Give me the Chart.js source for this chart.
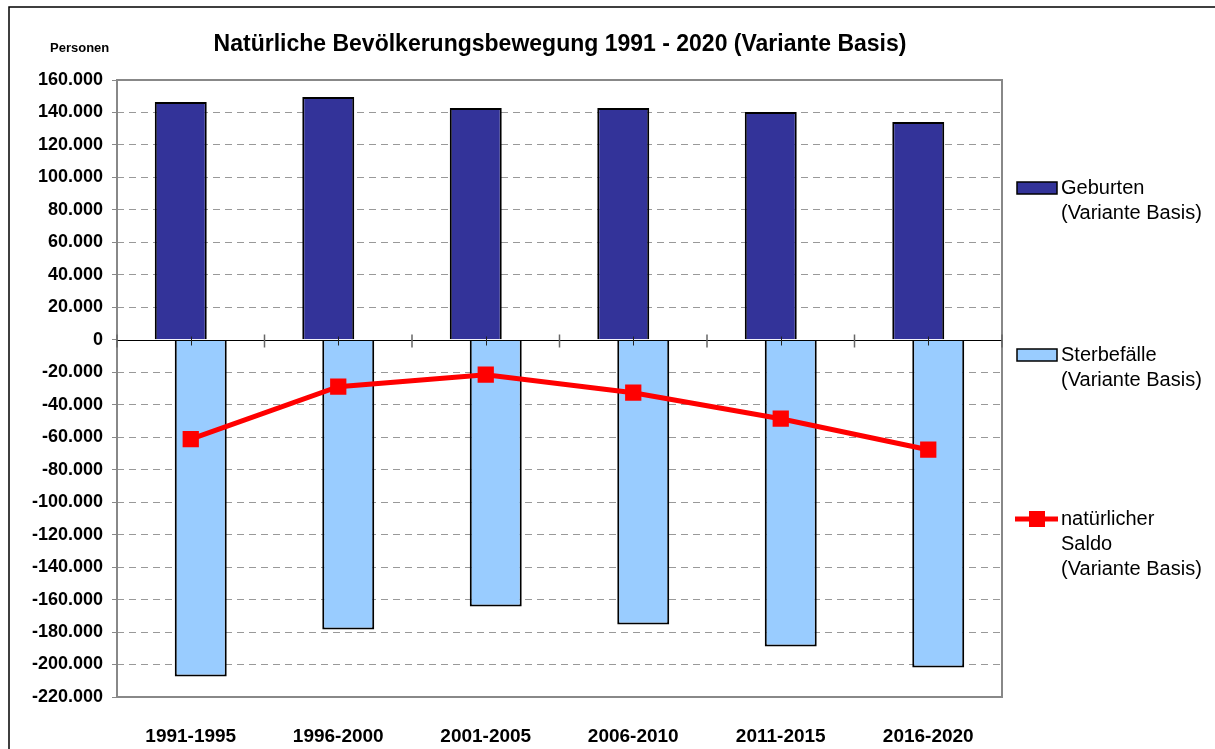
<!DOCTYPE html>
<html lang="de">
<head>
<meta charset="utf-8">
<script src="https://cdn.jsdelivr.net/npm/chart.js@4.4.1/dist/chart.umd.min.js"></script>
<style>
  body { margin: 0; background: #fff; }
  canvas { display: block; }
</style>
</head>
<body>
<canvas id="chart" width="1215" height="749"></canvas>
<script>
const periods = ["1991-1995", "1996-2000", "2001-2005", "2006-2010", "2011-2015", "2016-2020"];
const births = [146500, 149500, 142800, 142800, 140300, 134200];
const deaths = [-207400, -178500, -164300, -175400, -188900, -201800];
const balance = [-61200, -28900, -21500, -32600, -48600, -67700];

const titleText = "Natürliche Bevölkerungsbewegung 1991 - 2020 (Variante Basis)";
const unitText = "Personen";
const legendLines = [
  ["Geburten", "(Variante Basis)"],
  ["Sterbefälle", "(Variante Basis)"],
  ["natürlicher", "Saldo", "(Variante Basis)"]
];

const fontFamily = "Arial, 'Liberation Sans', sans-serif";

function formatThousands(value) {
  const sign = value < 0 ? "-" : "";
  const digits = String(Math.abs(value));
  return sign + digits.replace(/\B(?=(\d{3})+(?!\d))/g, ".");
}

const framePlugin = {
  id: "frame",
  beforeDraw(chart) {
    const ctx = chart.ctx;
    ctx.save();
    ctx.fillStyle = "#fff";
    ctx.fillRect(0, 0, chart.width, chart.height);
    ctx.strokeStyle = "#000";
    ctx.lineWidth = 1.5;
    ctx.beginPath();
    ctx.moveTo(9, chart.height);
    ctx.lineTo(9, 7);
    ctx.lineTo(chart.width, 7);
    ctx.stroke();

    ctx.fillStyle = "#000";
    ctx.textBaseline = "middle";
    ctx.textAlign = "center";
    ctx.font = "bold 23px " + fontFamily;
    ctx.fillText(titleText, 560, 45);
    ctx.font = "bold 13px " + fontFamily;
    ctx.textAlign = "left";
    ctx.fillText(unitText, 50, 48);
    ctx.restore();
  },
  beforeDatasetsDraw(chart) {
    const { ctx, chartArea } = chart;
    ctx.save();
    ctx.strokeStyle = "#888";
    ctx.lineWidth = 2;
    ctx.strokeRect(chartArea.left, chartArea.top,
      chartArea.right - chartArea.left, chartArea.bottom - chartArea.top);
    ctx.restore();
  },
  afterDatasetsDraw(chart) {
    const { ctx, chartArea, scales } = chart;
    const zeroY = Math.round(scales.y.getPixelForValue(0)) + 0.5;
    ctx.save();
    ctx.strokeStyle = "#000";
    ctx.lineWidth = 1;
    ctx.beginPath();
    ctx.moveTo(chartArea.left, zeroY);
    ctx.lineTo(chartArea.right, zeroY);
    ctx.stroke();

    const step = (chartArea.right - chartArea.left) / periods.length;
    ctx.strokeStyle = "#666";
    ctx.lineWidth = 1.5;
    for (let i = 0; i <= periods.length; i++) {
      const x = chartArea.left + step * i;
      ctx.beginPath();
      ctx.moveTo(x, zeroY - 6);
      ctx.lineTo(x, zeroY + 7);
      ctx.stroke();
    }
    ctx.strokeStyle = "#222";
    ctx.lineWidth = 1;
    periods.forEach((p, i) => {
      const x = Math.round(scales.x.getPixelForValue(i)) + 0.5;
      ctx.beginPath();
      ctx.moveTo(x, zeroY - 4);
      ctx.lineTo(x, zeroY + 5);
      ctx.stroke();
    });
    ctx.restore();
  }
};

const legendPlugin = {
  id: "sideLegend",
  afterDraw(chart) {
    const ctx = chart.ctx;
    const datasets = chart.data.datasets;
    const items = [
      { ds: datasets[1], y: 188, lines: legendLines[0] },
      { ds: datasets[2], y: 355, lines: legendLines[1] },
      { ds: datasets[0], y: 519, lines: legendLines[2] }
    ];
    ctx.save();
    ctx.font = "20px " + fontFamily;
    ctx.textBaseline = "middle";
    ctx.textAlign = "left";
    items.forEach(item => {
      if (item.ds.type === "line") {
        ctx.strokeStyle = item.ds.borderColor;
        ctx.lineWidth = 5;
        ctx.beginPath();
        ctx.moveTo(1015, item.y);
        ctx.lineTo(1058, item.y);
        ctx.stroke();
        ctx.fillStyle = item.ds.borderColor;
        ctx.fillRect(1029, item.y - 8, 16, 16);
      } else {
        ctx.fillStyle = item.ds.backgroundColor;
        ctx.fillRect(1017, item.y - 6, 40, 12);
        ctx.strokeStyle = "#000";
        ctx.lineWidth = 1.5;
        ctx.strokeRect(1017, item.y - 6, 40, 12);
      }
      ctx.fillStyle = "#000";
      item.lines.forEach((line, k) => {
        ctx.fillText(line, 1061, item.y + k * 25);
      });
    });
    ctx.restore();
  }
};

new Chart(document.getElementById("chart").getContext("2d"), {
  data: {
    labels: periods,
    datasets: [
      {
        type: "line",
        label: "natürlicher Saldo (Variante Basis)",
        data: balance,
        borderColor: "#FF0000",
        backgroundColor: "#FF0000",
        borderWidth: 5,
        pointStyle: "rect",
        pointRadius: 11.5,
        pointBorderWidth: 0,
        pointBackgroundColor: "#FF0000",
        tension: 0
      },
      {
        type: "bar",
        label: "Geburten (Variante Basis)",
        data: births,
        backgroundColor: "#333399",
        borderColor: "#000",
        borderWidth: 2,
        barPercentage: 2.6,
        categoryPercentage: 0.271
      },
      {
        type: "bar",
        label: "Sterbefälle (Variante Basis)",
        data: deaths,
        backgroundColor: "#99CCFF",
        borderColor: "#000",
        borderWidth: 2,
        barPercentage: 2.6,
        categoryPercentage: 0.271
      }
    ]
  },
  options: {
    responsive: false,
    animation: false,
    layout: { padding: { top: 80, right: 213, left: 0, bottom: 0 } },
    plugins: {
      legend: { display: false },
      title: { display: false },
      tooltip: { enabled: false }
    },
    scales: {
      x: {
        type: "category",
        offset: true,
        grid: { display: false },
        border: { display: false },
        ticks: {
          color: "#000",
          padding: 20,
          maxRotation: 0,
          font: { family: fontFamily, size: 19, weight: "bold" }
        },
        afterFit(scale) { scale.height = 52; }
      },
      y: {
        min: -220000,
        max: 160000,
        grid: {
          color: ctx => {
            const v = ctx.tick ? ctx.tick.value : null;
            return (v === 0 || v === 160000 || v === -220000) ? "rgba(0,0,0,0)" : "#999";
          },
          tickColor: "#888",
          tickLength: 5,
          tickBorderDash: [],
          lineWidth: 1
        },
        border: { display: false, dash: [7, 5] },
        ticks: {
          stepSize: 20000,
          color: "#000",
          padding: 9,
          font: { family: fontFamily, size: 18, weight: "bold" },
          callback: value => formatThousands(value)
        },
        afterFit(scale) { scale.width = 117; }
      }
    }
  },
  plugins: [framePlugin, legendPlugin]
});
</script>
</body>
</html>
